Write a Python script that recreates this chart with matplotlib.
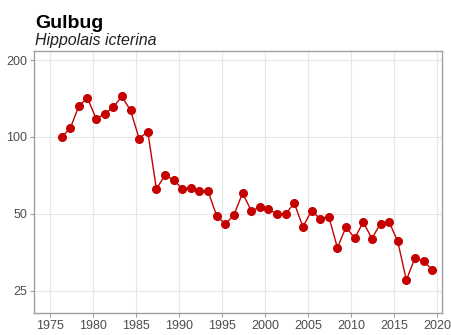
import matplotlib
matplotlib.use("Agg")
import matplotlib.pyplot as plt
from matplotlib.ticker import FixedLocator, NullLocator

years = list(range(1976, 2020))
index_values = [100, 108, 132, 142, 118, 123, 131, 144, 127, 98.5,
                105, 62.4, 71, 67.7, 62.7, 63.2, 61.2, 61.2, 49, 45.6,
                49.5, 60.3, 51.4, 53, 52, 50, 50, 55, 44.4, 51.4,
                47.8, 48.8, 36.8, 44.4, 40.1, 46.4, 40, 45.8, 46.4, 39,
                27.5, 33.6, 32.7, 30.1]
x_ticks = [1975, 1980, 1985, 1990, 1995, 2000, 2005, 2010, 2015, 2020]
y_ticks = [25, 50, 100, 200]
title = "Gulbug"
subtitle = "Hippolais icterina"

plt.rcParams['font.family'] = ['Liberation Sans', 'DejaVu Sans']

fig = plt.figure(figsize=(4.52, 3.35), dpi=100)
ax = fig.add_axes([34/452, 1 - 312.7/335, (441.7 - 34)/452, (312.7 - 51)/335])

red = '#c40000'
xs = [y + 0.4 for y in years]
ax.plot(xs, index_values, color=red, lw=1.0, marker='o', markersize=5.5,
        markerfacecolor=red, markeredgecolor=red, zorder=3)

ax.set_yscale('log')
ax.set_ylim(20.5, 217)
ax.set_xlim(1973.2, 2020.5)
ax.yaxis.set_major_locator(FixedLocator(y_ticks))
ax.yaxis.set_minor_locator(NullLocator())
ax.set_yticklabels([str(v) for v in y_ticks])
ax.set_xticks(x_ticks)
ax.set_xticklabels([str(v) for v in x_ticks])

ax.grid(True, color='#e6e6e6', lw=0.8, zorder=0)
ax.set_axisbelow(True)
for s in ax.spines.values():
    s.set_color('#a0a0a0')
    s.set_linewidth(1.0)
ax.tick_params(axis='both', colors='#a0a0a0', length=3, width=0.8,
               labelsize=9, labelcolor='#4d4d4d', pad=2)

fig.text(35/452, 1 - 28/335, title, fontsize=14, fontweight='bold',
         color='black', va='baseline', ha='left')
fig.text(35/452, 1 - 45.5/335, subtitle, fontsize=11.5, fontstyle='italic',
         color='#222222', va='baseline', ha='left')

fig.savefig('out.png', dpi=100)
